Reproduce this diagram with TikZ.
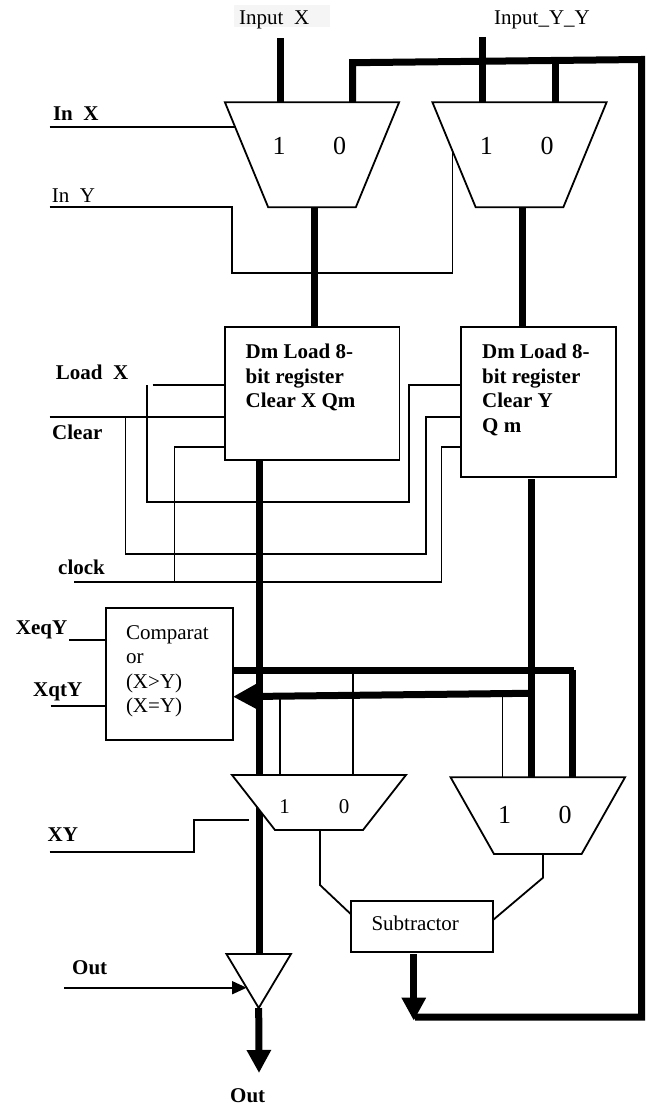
\documentclass[tikz,border=0pt]{standalone}
\usepackage{fontspec}
\setmainfont{Liberation Serif}
\usetikzlibrary{arrows.meta, shapes.geometric, backgrounds}
\newcommand{\muxbody}[2]{\phantom{\rule{#1pt}{#2pt}}}
\tikzset{
  labeltext/.style={anchor=base west, inner sep=0pt, font=\fontsize{21}{24.5}\selectfont},
  labelbold/.style={labeltext, font=\fontsize{21}{24.5}\selectfont\bfseries},
  digit/.style={inner sep=0pt, font=\fontsize{26}{28}\selectfont},
  digitsmall/.style={inner sep=0pt, font=\fontsize{21}{24}\selectfont},
  ctrl/.style={line width=1.8pt},
  bus/.style={line width=7pt},
  busarrow/.style={bus, -{Triangle[length=23pt, width=23pt]}},
  box/.style={draw, line width=1.8pt, rectangle, inner sep=0pt, outer sep=0pt, fill=white},
  mux/.style={draw, line width=1.8pt, trapezium, shape border rotate=180,
    inner sep=0pt, outer sep=0pt, fill=white},
  blocktext/.style={anchor=north west, align=left, inner sep=0pt, font=\fontsize{21}{24.5}\selectfont},
}
\begin{document}
\begin{tikzpicture}[x=1pt, y=-1pt]
  \useasboundingbox (0,0) rectangle (646,1107);
  % top muxes and registers
  \node[mux, trapezium angle=67.6] (muxX) at (312,154.8) {\muxbody{87.6}{105}};
  \node[mux, trapezium angle=67.6] (muxY) at (519.5,154.8) {\muxbody{87.6}{105}};
  \node[digit] (muxXone) at (279,146) {1};
  \node[digit] (muxXzero) at (339.5,146) {0};
  \node[digit] (muxYone) at (486.4,146) {1};
  \node[digit] (muxYzero) at (547,146) {0};
  \node[box, minimum width=174.5pt, minimum height=133pt] (regX) at (312.2,393.8) {};
  \node[box, minimum width=155.3pt, minimum height=150pt] (regY) at (538.6,402.3) {};
  \node[blocktext, font=\fontsize{21}{24.5}\selectfont\bfseries] (regXtext) at (245.5,344) {Dm Load 8-\\bit register\\Clear X Qm};
  \node[blocktext, font=\fontsize{21}{24.5}\selectfont\bfseries] (regYtext) at (482,344) {Dm Load 8-\\bit register\\Clear Y\\Q m};
  % comparator, lower muxes, subtractor, driver
  \node[box, minimum width=127.4pt, minimum height=131.7pt] (cmp) at (169.3,674.2) {};
  \node[blocktext] (cmpText) at (125.8,625) {Comparat\\or\\(X>Y)\\(X=Y)};
  \node[mux, trapezium angle=52] (muxA) at (319,802.5) {\muxbody{88}{55}};
  \node[mux, trapezium angle=60.5] (muxB) at (537.8,815.6) {\muxbody{87.7}{76.7}};
  \node[digitsmall] (muxAone) at (284.7,806.7) {1};
  \node[digitsmall] (muxAzero) at (344,806.7) {0};
  \node[digit] (muxBone) at (504.5,815) {1};
  \node[digit] (muxBzero) at (565,815) {0};
  \node[box, minimum width=142.3pt, minimum height=51pt] (sub) at (421.8,926.5) {};
  \node[labeltext] (subText) at (371.3,930.7) {Subtractor};
  \node[draw, line width=1.8pt, isosceles triangle, isosceles triangle stretches=true, shape border rotate=270,
    minimum width=64.5pt, minimum height=54pt, inner sep=0pt, outer sep=0pt, fill=white, anchor=apex] (driver) at (258.7,1008) {\phantom{1}};
  % labels
  \node[fill=black!4, minimum width=96pt, minimum height=22pt, inner sep=0pt] (inputXbg) at (282,16) {};
  \node[labeltext] (inputX) at (239,25) {Input\ \ X};
  \node[labeltext] (inputY) at (494,25) {Input\_Y\_Y};
  \node[labelbold] (inXlabel) at (52.8,120.7) {In\ \ X};
  \node[labeltext] (inYlabel) at (51.6,203) {In\ \ Y};
  \node[labelbold] (loadLabel) at (55.7,379.3) {Load\ \ X};
  \node[labelbold] (clearLabel) at (52,439.3) {Clear};
  \node[labelbold] (clockLabel) at (58,574.3) {clock};
  \node[labelbold] (xeqLabel) at (15.7,634) {XeqY};
  \node[labelbold] (xgtLabel) at (33,696) {XqtY};
  \node[labelbold] (xyLabel) at (47.4,841.7) {XY};
  \node[labelbold] (outLabel) at (72,974) {Out};
  \node[labelbold] (outBottom) at (230,1102) {Out};
  % free ends
  \coordinate (inputXtop) at (280,38.5);
  \coordinate (inputYtop) at (482.7,37);
  \coordinate (fbDrop) at (352.5,62.7);
  \coordinate (fbCorner) at (641.5,59.5);
  \coordinate (fbBottom) at (641.5,1017);
  \coordinate (fbEnd) at (415,1017);
  \coordinate (muxYzeroTop) at (555,61);
  \coordinate (inXin) at (49.5,126.7);
  \coordinate (inXedge) at (235,126.7);
  \coordinate (inYin) at (49.5,207.3);
  \coordinate (inYturn) at (231.8,273);
  \coordinate (inYedge) at (452.5,150);
  \coordinate (muxXout) at (314,207.3);
  \coordinate (muxYout) at (522.3,207.3);
  \coordinate (loadIn) at (152.6,385.3);
  \coordinate (loadTop) at (147.3,385.3);
  \coordinate (loadRise) at (409.2,501.7);
  \coordinate (clearIn) at (49.5,417.3);
  \coordinate (clearTop) at (125.4,417.3);
  \coordinate (clearRise) at (426,554);
  \coordinate (clockIn) at (74,582.3);
  \coordinate (clockTap) at (174.5,582.3);
  \coordinate (clockRise) at (441.4,582.3);
  \coordinate (clockLevel) at (0,447);
  \coordinate (regXbus) at (259,460.3);
  \coordinate (regYbus) at (531.3,479.3);
  \coordinate (eqIn) at (69.3,640);
  \coordinate (gtIn) at (50.7,706);
  \coordinate (cmpTop) at (233,670);
  \coordinate (cmpTopEnd) at (574,670);
  \coordinate (cmpTopDrop) at (572,670);
  \coordinate (cmpArrowStart) at (529,693.3);
  \coordinate (cmpArrowTip) at (233,696.7);
  \coordinate (tapAone) at (280,696);
  \coordinate (tapAzero) at (352.7,670);
  \coordinate (tapBone) at (502.5,694);
  \coordinate (xyIn) at (49.5,852.3);
  \coordinate (xyRise) at (194,820);
  \coordinate (xyEnd) at (248.8,820);
  \coordinate (muxAout) at (320,830);
  \coordinate (muxAbend) at (320,885);
  \coordinate (subLeft) at (350.7,914);
  \coordinate (muxBout) at (543,854);
  \coordinate (muxBbend) at (543,877.7);
  \coordinate (subRight) at (493,920);
  \coordinate (subOut) at (413.8,954);
  \coordinate (subTip) at (413.8,1020.7);
  \coordinate (outIn) at (64,987.7);
  \coordinate (outTip) at (246.7,987.7);
  \coordinate (outEnd) at (259,1073);
  % wires go under the boxes
  \begin{scope}[on background layer]
    \draw[bus] (inputXtop) -- (inputXtop |- muxX.north);
    \draw[bus] (inputYtop) -- (inputYtop |- muxY.north);
    \draw[bus, miter limit=10] (fbDrop |- muxX.north) -- (fbDrop) -- (fbCorner) -- (fbBottom) -- (fbEnd);
    \draw[bus] (muxYzeroTop) -- (muxYzeroTop |- muxY.north);
    \draw[ctrl, line width=2pt] (inXin) -- (inXedge);
    \draw[ctrl] (inYin) -| (inYturn) -- (inYturn -| inYedge) -- (inYedge);
    \draw[bus] (muxXout) -- (muxXout |- regX.north);
    \draw[bus] (muxYout) -- (muxYout |- regY.north);
    \draw[ctrl] (loadIn) -- (regX.west |- loadIn);
    \draw[ctrl] (loadTop) |- (loadRise) |- (regY.west |- loadTop);
    \draw[ctrl] (clearIn) -- (regX.west |- clearIn);
    \draw[ctrl] (clearTop) |- (clearRise) |- (regY.west |- clearTop);
    \draw[ctrl] (clockIn) -- (clockRise) |- (regY.west |- clockLevel);
    \draw[ctrl] (clockTap) |- (regX.west |- clockLevel);
    \draw[bus] (regXbus) -- (regXbus |- driver.north);
    \draw[bus] (regYbus) -- (regYbus |- muxB.north);
    \draw[ctrl] (eqIn) -- (cmp.west |- eqIn);
    \draw[ctrl] (gtIn) -- (cmp.west |- gtIn);
    \draw[bus] (cmpTop) -- (cmpTopEnd);
    \draw[bus] (cmpTopDrop) -- (cmpTopDrop |- muxB.north);
    \draw[busarrow] (cmpArrowStart) -- (cmpArrowTip);
    \draw[ctrl] (tapAone) -- (tapAone |- muxA.north);
    \draw[ctrl] (tapAzero) -- (tapAzero |- muxA.north);
    \draw[ctrl] (tapBone) -- (tapBone |- muxB.north);
    \draw[ctrl] (xyIn) -| (xyRise) -- (xyEnd);
    \draw[ctrl] (muxAout) -- (muxAbend) -- (subLeft);
    \draw[ctrl] (muxBout) -- (muxBbend) -- (subRight);
    \draw[busarrow] (subOut) -- (subTip);
    \draw[ctrl, -{Triangle[length=14.7pt, width=13pt]}] (outIn) -- (outTip);
    \draw[busarrow] (driver.apex) -- (outEnd);
  \end{scope}
\end{tikzpicture}
\end{document}
